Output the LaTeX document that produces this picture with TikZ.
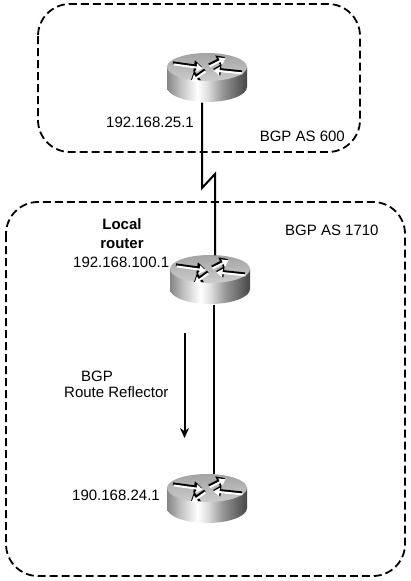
\documentclass[tikz,border=0pt]{standalone}
\usepackage{fontspec}
\setmainfont{Liberation Sans}
\usetikzlibrary{arrows.meta}
\tikzset{
  every picture/.style={x=1pt,y=-1pt},
  zone/.style={draw=black,line width=1.8pt,dash pattern=on 8pt off 4pt,rounded corners=32pt},
  link/.style={draw=black,line width=2pt,line join=miter},
  lbl/.style={inner sep=0pt,font=\fontsize{15}{19}\selectfont,align=center},
  routerbox/.style={inner sep=0pt,minimum width=80pt,minimum height=49pt,draw=none},
  rarrowb/.style={black,line width=3.2pt,-{Triangle[length=8pt,width=11pt]}},
  rarroww/.style={white,line width=2pt,-{Triangle[length=6pt,width=8pt]}},
}
\pgfdeclarehorizontalshading{rtrbody}{100bp}{
  rgb(0bp)=(0.55,0.55,0.55); rgb(25bp)=(0.52,0.52,0.52); rgb(33bp)=(0.75,0.75,0.75); rgb(44bp)=(1,1,1);
  rgb(50bp)=(0.88,0.88,0.88); rgb(60bp)=(0.58,0.58,0.58); rgb(75bp)=(0.28,0.28,0.28); rgb(100bp)=(0.28,0.28,0.28)}
\newcommand{\rarr}[4]{%
  \draw[rarrowb] (#1,#2) -- (#3,#4);
  \draw[rarroww] (#1+0.5,#2+1.4) -- (#3+0.5,#4+1.4);
}
\newcommand{\rtr}[3]{%
  \begin{scope}[shift={(#2,#3)}]
    \shade[shading=rtrbody]
      (-40,-11) -- (-40,9) arc[start angle=180,end angle=0,x radius=40,y radius=15] -- (40,-11) -- cycle;
    \shade[top color=black!36,bottom color=black!20] (0,-11) ellipse[x radius=40,y radius=14];
    \rarr{-34}{-15}{-5}{-11}
    \rarr{35}{-6}{6}{-9}
    \rarr{2}{-13}{18}{-21}
    \rarr{-2}{-8}{-16}{2}
  \end{scope}
  \node[routerbox] (#1) at (#2,#3) {};
}
\begin{document}
\begin{tikzpicture}
\useasboundingbox (0,0) rectangle (410,581);
\fill[white] (0,0) rectangle (410,581);
\draw[zone] (38,4) rectangle (360,152);
\draw[zone] (6,202) rectangle (405,576);
\rtr{r1}{207}{78}
\rtr{r2}{210}{280}
\rtr{r3}{207}{499}
\coordinate (ya) at ([xshift=-5pt]r1.south);
\coordinate (za) at (ya |- 0,188);
\coordinate (yb) at ([xshift=5pt]r2.north);
\coordinate (zb) at (yb |- 0,174);
\coordinate (yc) at ([xshift=4pt]r2.south);
\coordinate (yd) at ([xshift=7pt]r3.north);
\draw[link] (ya) -- (za) -- (zb) -- (yb);
\draw[link] (yc) -- (yd);
\coordinate (aa) at (184.5,333);
\coordinate (ab) at (184.5,438);
\draw[link,-{Stealth[length=10pt,width=9pt]}] (aa) -- (ab);
\node[lbl,anchor=west] (t1) at (106,122) {192.168.25.1};
\node[lbl,anchor=east] (t2) at (345,136) {BGP AS 600};
\node[lbl,anchor=west] (t3) at (285,230) {BGP AS 1710};
\node[lbl,font=\fontsize{15}{19}\selectfont\bfseries] (t4) at (122,234) {Local\\router};
\node[lbl,anchor=west] (t5) at (73,262) {192.168.100.1};
\node[lbl,anchor=west] (t6) at (72,495) {190.168.24.1};
\node[lbl,anchor=west] (t7) at (81,376) {BGP};
\node[lbl,anchor=west] (t8) at (64,392) {Route Reflector};
\end{tikzpicture}
\end{document}
